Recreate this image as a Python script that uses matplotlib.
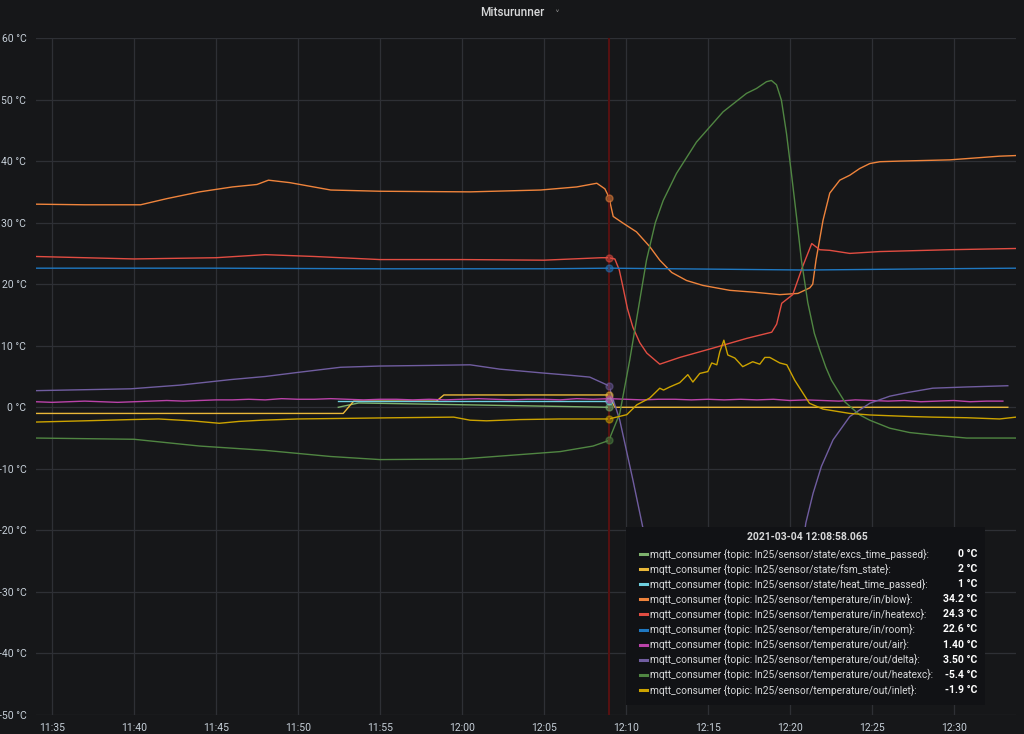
import numpy as np
import pandas as pd
import matplotlib
matplotlib.use("Agg")
import matplotlib.pyplot as plt
import matplotlib.dates as mdates

plt.rcParams['font.family'] = ['Roboto', 'DejaVu Sans']

# time is in minutes after 11:35 on 2021-03-04
base = pd.Timestamp("2021-03-04 11:35:00")
cursor_min = 33.97   # 12:08:58

excs_t = [17.46, 18.7, 33.96]
excs_v = [0, 0.7, 0]

fsm_t = [-1, 17.76, 18.4, 23.45, 23.9, 33.96, 34.33, 58.3]
fsm_v = [-1, -1, 1, 1, 2, 2, 0, 0]

heat_t = [17.46, 33.96]
heat_v = [1, 1]

blow_t = [-1, 2, 5.4, 7, 9, 11, 12.5, 13.2, 14.5, 17, 20, 25.5, 29.8, 32, 33.23, 33.72, 33.96,
          34.23, 34.84, 35.65, 36.46, 37.07, 37.8, 38.7, 39.7, 41.34, 42.8, 44.39, 45.5, 46.22,
          46.4, 46.6, 47.03, 47.44, 48.05, 48.66, 49.27, 49.88, 50.5, 51.71, 54.76, 57.8, 58.8]
blow_v = [33.0, 32.9, 32.9, 33.9, 35.0, 35.8, 36.2, 36.9, 36.5, 35.3, 35.1, 35.0, 35.3, 35.8, 36.4,
          35.5, 34.2, 31.0, 29.9, 28.5, 26.1, 23.9, 21.9, 20.6, 19.8, 19.0, 18.7, 18.3, 18.5, 19.4,
          20.0, 23.9, 30.4, 34.8, 36.9, 37.7, 38.8, 39.6, 39.9, 40.0, 40.2, 40.8, 40.9]

hx_t = [-1, 5, 10, 13, 16, 20, 25, 30, 33.5, 33.96, 34.33, 34.6, 34.82, 35.1, 35.43, 35.85, 36.28,
        37.07, 38.29, 40.30, 42.38, 43.90, 44.2, 44.51, 45.18, 45.79, 46.34, 46.83, 47.44, 48.66,
        50.49, 54.76, 58.8]
hx_v = [24.5, 24.1, 24.3, 24.8, 24.5, 24.0, 24.0, 23.9, 24.3, 24.3, 24.1, 22.3, 19.6, 16.0, 13.0,
        10.5, 8.8, 7.0, 8.1, 9.6, 11.2, 12.2, 13.5, 16.9, 18.3, 22.9, 26.6, 25.6, 25.5, 25.0, 25.3,
        25.6, 25.8]

room_t = [-1, 10, 20, 30, 33.96, 38, 42, 46, 50, 54, 58.8]
room_v = [22.6, 22.6, 22.5, 22.5, 22.6, 22.5, 22.4, 22.3, 22.4, 22.5, 22.6]

air_t = np.arange(-1, 59, 1.0)
air_v = [0.9, 0.8, 0.9, 1.0, 0.9, 0.8, 0.9, 1.0, 1.1, 1.0, 1.1, 1.2,
         1.2, 1.3, 1.2, 1.4, 1.3, 1.3, 1.4, 1.3, 1.2, 1.3,
         1.3, 1.2, 1.3, 1.2, 1.3, 1.4, 1.3, 1.2, 1.3, 1.3,
         1.2, 1.4, 1.3, 1.4, 1.3, 1.2, 1.3, 1.3, 1.2, 1.3,
         1.2, 1.3, 1.2, 1.3, 1.1, 1.2, 1.1, 1.0, 1.2, 1.1,
         1.0, 1.1, 0.9, 1.0, 1.1, 0.9, 1.0, 1.0]

delta_t = [-1, 4.8, 7.8, 10.9, 13, 15.1, 17.6, 20, 23, 25.5, 27.3, 29.8, 31.6, 32.8, 33.96, 34.63,
           35.43, 35.98, 37, 39, 41, 43, 44.2, 45.0, 45.5, 45.98, 46.42, 46.93, 47.64, 48.66,
           49.88, 51.1, 52.2, 53.72, 55.79, 58.3]
delta_v = [2.7, 3.0, 3.6, 4.5, 5.0, 5.7, 6.5, 6.7, 6.8, 6.9, 6.2, 5.6, 5.2, 4.9, 3.5, -2.1, -11.8,
           -18.8, -32, -40, -44, -46, -47, -38, -28, -18.8, -14.0, -9.6, -5.3, -1.5, 0.65, 1.8,
           2.4, 3.1, 3.3, 3.5]

oh_t = [-1, 5, 9, 13, 17, 20, 25, 28, 31, 33, 33.96, 34.63, 35.24, 35.85, 36.26, 36.8, 37.28,
        38.09, 39.31, 40.93, 42.36, 42.97, 43.58, 43.88, 44.19, 44.49, 44.8, 45.1, 45.41, 45.71,
        46.1, 46.5, 46.83, 47.2, 47.54, 48.35, 49.27, 49.88, 51.1, 52.3, 53.72, 55.79, 58.8]
oh_v = [-5.0, -5.2, -6.3, -7.0, -8.0, -8.5, -8.4, -7.8, -7.2, -6.3, -5.4, -1.0, 7.7, 17.4, 23.9,
        30.0, 33.6, 38.0, 43.1, 48.0, 51.0, 51.8, 52.9, 53.1, 52.4, 49.9, 44.5, 38.0, 31.0, 23.9,
        17.0, 12.0, 9.3, 6.5, 4.4, 0.9, -1.25, -2.1, -3.4, -4.1, -4.5, -5.0, -5.0]

inlet_t = [-1, 2, 4.8, 6.5, 8.5, 10.2, 11.4, 12.8, 15, 18, 21, 24.5, 25.5, 26.5, 28.5, 31, 33.3,
           33.96, 35.06, 35.67, 36.46, 37.07, 37.3, 37.68, 38.29, 38.78, 39.09, 39.51, 40.0, 40.24,
           40.55, 40.73, 40.98, 41.22, 41.65, 42.13, 42.74, 43.17, 43.48, 43.78, 44.39, 44.82,
           45.3, 46.2, 47.03, 48.66, 49.88, 52.3, 53.7, 55.8, 57.8, 58.8]
inlet_v = [-2.4, -2.2, -2.0, -1.9, -2.2, -2.6, -2.3, -2.1, -1.9, -1.8, -1.7, -1.6, -2.1, -2.2, -2.0,
           -1.9, -1.9, -1.9, -1.2, 0.4, 1.5, 3.1, 2.8, 3.3, 4.0, 5.3, 4.1, 5.5, 5.8, 7.2, 6.9, 9.0,
           10.9, 8.5, 8.0, 6.6, 7.4, 7.0, 8.1, 8.1, 7.2, 6.9, 4.4, 0.65, -0.3, -1.0, -1.25, -1.5,
           -1.6, -1.7, -1.9, -1.6]

topics = ["state/excs_time_passed", "state/fsm_state", "state/heat_time_passed",
          "temperature/in/blow", "temperature/in/heatexc", "temperature/in/room",
          "temperature/out/air", "temperature/out/delta", "temperature/out/heatexc",
          "temperature/out/inlet"]
shown = ["0 °C", "2 °C", "1 °C", "34.2 °C", "24.3 °C", "22.6 °C", "1.40 °C", "3.50 °C",
         "-5.4 °C", "-1.9 °C"]
colors = ["#7EB26D", "#EAB839", "#6ED0E0", "#EF843C", "#E24D42", "#1F78C1",
          "#BA43A9", "#705DA0", "#508642", "#CCA300"]
series = [(excs_t, excs_v), (fsm_t, fsm_v), (heat_t, heat_v), (blow_t, blow_v),
          (hx_t, hx_v), (room_t, room_v), (air_t, air_v), (delta_t, delta_v),
          (oh_t, oh_v), (inlet_t, inlet_v)]


def to_time(mins):
    return base + pd.to_timedelta(np.asarray(mins, dtype=float), unit="min")


bg = "#161719"
txt = "#c7d0d9"
W, H = 1024, 734

fig = plt.figure(figsize=(W / 100, H / 100), dpi=100, facecolor=bg)
ax = fig.add_axes([36 / W, 1 - 715 / H, (1016 - 36) / W, (715 - 38) / H])
ax.set_facecolor(bg)

for (t, v), c in zip(series, colors):
    ax.plot(to_time(t), v, color=c, lw=1.0, solid_joinstyle="round")

# hover cursor + point markers
cur = to_time([cursor_min])[0]
ax.axvline(cur, color="#561111", lw=1.5, zorder=5)
for (t, v), c in zip(series, colors):
    yv = np.interp(cursor_min, t, v)
    ax.plot([cur], [yv], "o", ms=5, mfc=c, mec=c, alpha=0.5, zorder=6)

ax.set_ylim(-50, 60)
ax.set_yticks(np.arange(-50, 61, 10))
ax.set_yticklabels([f"{v} °C" for v in range(-50, 61, 10)])
ax.set_xlim(to_time([-0.98])[0], to_time([58.8])[0])
ax.xaxis.set_major_locator(mdates.MinuteLocator(byminute=range(0, 60, 5)))
ax.xaxis.set_major_formatter(mdates.DateFormatter("%H:%M"))
ax.grid(True, color="#2e3035", lw=0.9)
ax.set_axisbelow(True)
for s in ax.spines.values():
    s.set_visible(False)
ax.tick_params(axis="both", length=0, colors=txt, labelsize=7.5)
ax.tick_params(axis="y", pad=7)
ax.tick_params(axis="x", pad=6)

# title
fig.text(512 / W, 1 - 12 / H, "Mitsurunner", ha="center", va="center",
         color="#d8d9da", fontsize=8.5, fontweight="medium")
fig.text(557 / W, 1 - 15 / H, "\u02c5", ha="center", va="center", color="#8e8e8e", fontsize=7)

# tooltip box
box = plt.Rectangle((626 / W, 1 - 705 / H), (985 - 626) / W, (705 - 527) / H,
                    transform=fig.transFigure, facecolor="#111215", edgecolor="none", zorder=10)
fig.add_artist(box)
fig.text(807 / W, 1 - 537 / H, "2021-03-04 12:08:58.065", ha="center", va="center",
         color="#d8d9da", fontsize=7.5, fontweight="bold", zorder=11)
for i, (tp, val, c) in enumerate(zip(topics, shown, colors)):
    yy = 1 - (554 + i * 15.1) / H
    fig.add_artist(plt.Line2D([640 / W, 647 / W], [yy, yy], transform=fig.transFigure,
                              color=c, lw=2.2, zorder=11))
    fig.text(650 / W, yy, "mqtt_consumer {topic: ln25/sensor/" + tp + "}:", ha="left",
             va="center", color="#d8d9da", fontsize=7.3, zorder=11)
    fig.text(977 / W, yy, val, ha="right", va="center", color="#ffffff",
             fontsize=7.5, fontweight="bold", zorder=11)

fig.savefig("out.png", dpi=100, facecolor=bg)
